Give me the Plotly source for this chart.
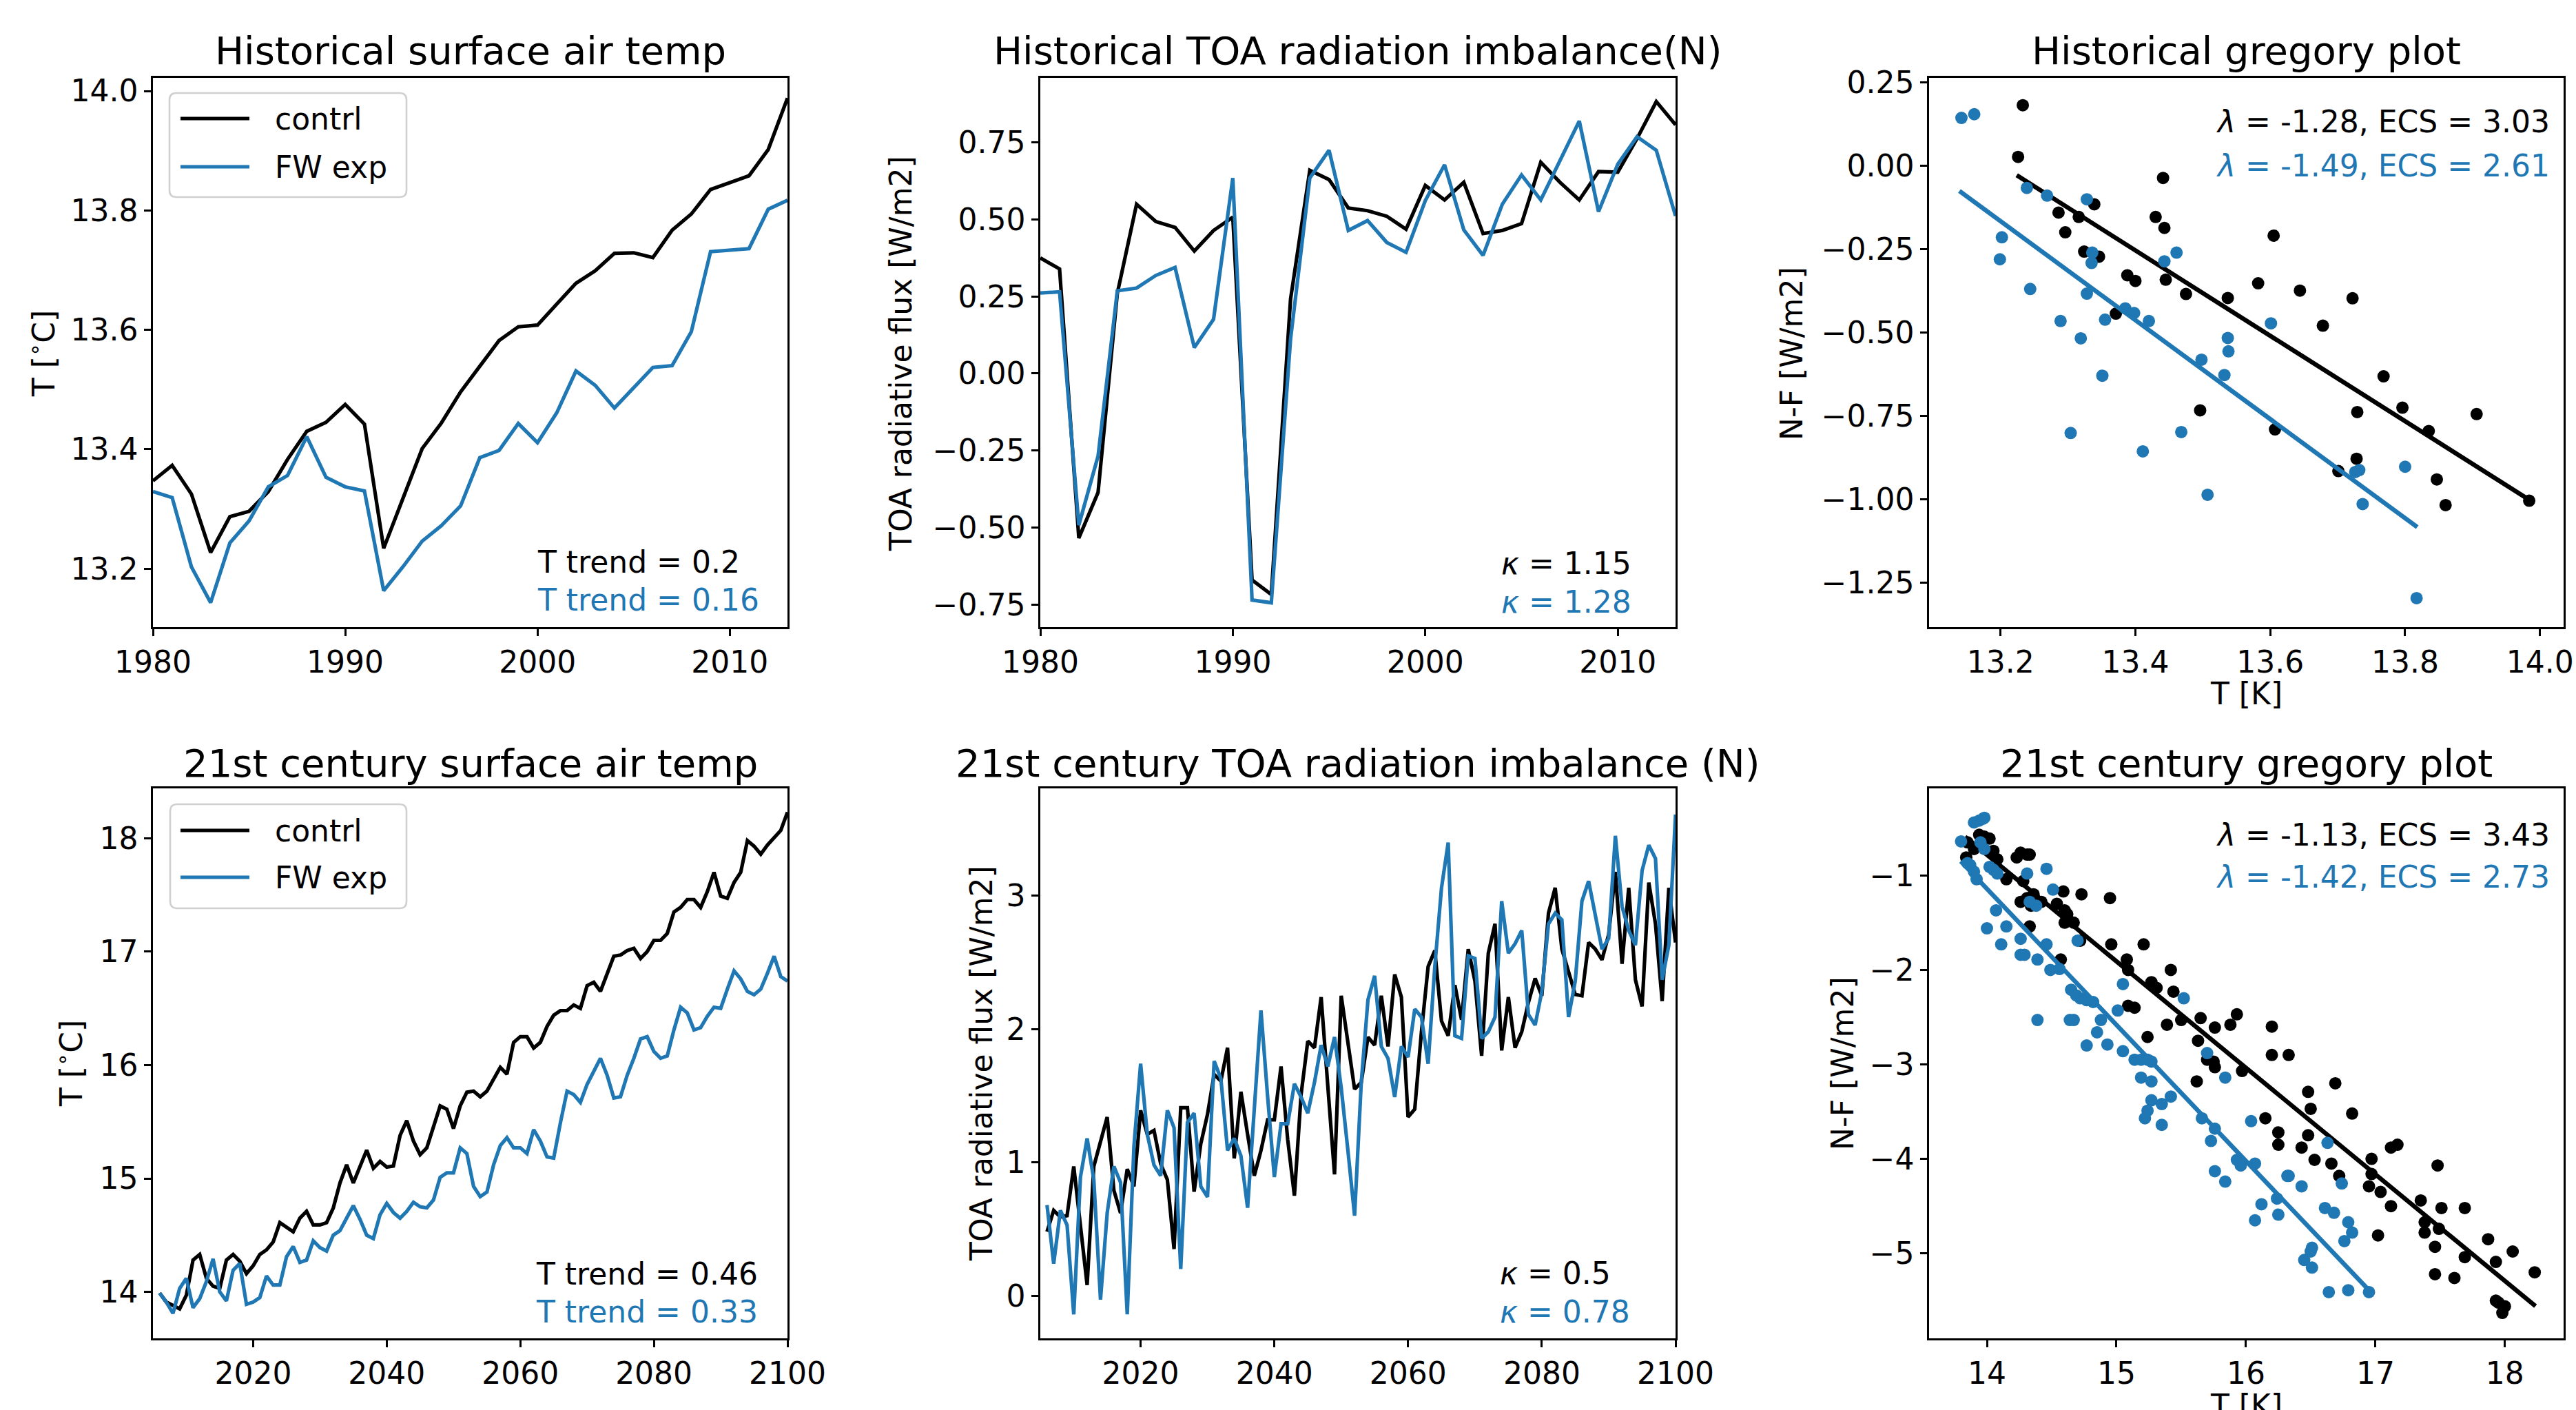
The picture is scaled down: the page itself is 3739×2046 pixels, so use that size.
import plotly.graph_objects as go

W, H = 3739, 2046
BLACK = "#000000"
BLUE = "#1f77b4"
FONT = "DejaVu Sans"

# ---------------- data ----------------
years_hist = list(range(1980, 2014))
years_21 = list(range(2006, 2101))

T_hist_ctrl = [13.347, 13.373, 13.325, 13.227, 13.287, 13.296, 13.329, 13.383, 13.430, 13.445,
               13.475, 13.442, 13.234, 13.319, 13.401, 13.444, 13.496, 13.539, 13.582, 13.605,
               13.608, 13.643, 13.678, 13.699, 13.728, 13.729, 13.721, 13.767, 13.794, 13.835,
               13.847, 13.858, 13.902, 13.988]
T_hist_fw = [13.329, 13.319, 13.203, 13.143, 13.243, 13.280, 13.337, 13.356, 13.421, 13.353,
             13.337, 13.330, 13.163, 13.203, 13.246, 13.272, 13.305, 13.386, 13.398, 13.443,
             13.411, 13.461, 13.531, 13.507, 13.469, 13.502, 13.537, 13.540, 13.597, 13.731,
             13.734, 13.736, 13.802, 13.817]

N_hist_ctrl = [0.375, 0.339, -0.534, -0.386, 0.26, 0.549, 0.493, 0.474, 0.397, 0.464,
               0.507, -0.670, -0.717, 0.241, 0.659, 0.629, 0.537, 0.528, 0.510, 0.468,
               0.610, 0.563, 0.620, 0.454, 0.464, 0.486, 0.685, 0.620, 0.563, 0.655,
               0.653, 0.762, 0.882, 0.807]
N_hist_fw = [0.261, 0.265, -0.492, -0.268, 0.268, 0.277, 0.318, 0.344, 0.084, 0.176,
             0.634, -0.735, -0.744, 0.111, 0.634, 0.724, 0.464, 0.496, 0.425, 0.393,
             0.561, 0.677, 0.466, 0.383, 0.549, 0.644, 0.563, 0.688, 0.819, 0.525,
             0.679, 0.768, 0.724, 0.511]

greg_hist_ctrl_T = [13.233, 13.226, 13.441, 13.339, 13.286, 13.316, 13.430, 13.443, 13.296, 13.605,
                    13.324, 13.346, 13.388, 13.400, 13.445, 13.475, 13.537, 13.582, 13.644, 13.722,
                    13.678, 13.371, 13.768, 13.496, 13.729, 13.796, 13.906, 13.607, 13.835, 13.728,
                    13.701, 13.847, 13.860, 13.984]
greg_hist_ctrl_NF = [0.181, 0.026, -0.037, -0.116, -0.141, -0.154, -0.154, -0.187, -0.200, -0.210,
                     -0.258, -0.273, -0.329, -0.346, -0.342, -0.385, -0.397, -0.353, -0.375, -0.398,
                     -0.480, -0.444, -0.632, -0.734, -0.739, -0.726, -0.745, -0.791, -0.796, -0.879,
                     -0.916, -0.941, -1.018, -1.005]
greg_hist_fw_T = [13.142, 13.161, 13.239, 13.269, 13.328, 13.202, 13.199, 13.336, 13.335, 13.443,
                  13.461, 13.244, 13.328, 13.289, 13.355, 13.385, 13.398, 13.420, 13.319, 13.601,
                  13.537, 13.538, 13.351, 13.498, 13.532, 13.304, 13.468, 13.411, 13.507, 13.726,
                  13.732, 13.800, 13.737, 13.817]
greg_hist_fw_NF = [0.143, 0.154, -0.067, -0.090, -0.101, -0.215, -0.281, -0.261, -0.292, -0.287,
                   -0.261, -0.370, -0.384, -0.466, -0.462, -0.428, -0.442, -0.466, -0.518, -0.473,
                   -0.517, -0.557, -0.630, -0.582, -0.628, -0.802, -0.799, -0.857, -0.987, -0.919,
                   -0.913, -0.903, -1.015, -1.297]
fit_hist_ctrl_T = [13.224, 13.984]
fit_hist_ctrl_NF = [-0.029, -1.002]
fit_hist_fw_T = [13.139, 13.818]
fit_hist_fw_NF = [-0.076, -1.084]

T21_ctrl = [13.99, 13.91, 13.88, 13.85, 13.97, 14.28, 14.33, 14.12, 14.05, 14.03,
            14.28, 14.33, 14.27, 14.16, 14.23, 14.33, 14.37, 14.44, 14.61, 14.57,
            14.53, 14.65, 14.71, 14.59, 14.59, 14.61, 14.74, 14.96, 15.12, 14.96,
            15.10, 15.25, 15.09, 15.15, 15.10, 15.11, 15.38, 15.51, 15.33, 15.21,
            15.27, 15.46, 15.64, 15.61, 15.44, 15.64, 15.76, 15.77, 15.72, 15.77,
            15.88, 15.98, 15.92, 16.20, 16.25, 16.25, 16.15, 16.20, 16.34, 16.44,
            16.48, 16.48, 16.53, 16.50, 16.70, 16.73, 16.65, 16.80, 16.96, 16.97,
            17.01, 17.03, 16.94, 17.00, 17.10, 17.10, 17.16, 17.35, 17.39, 17.46,
            17.46, 17.39, 17.53, 17.70, 17.49, 17.47, 17.61, 17.70, 17.98, 17.93,
            17.86, 17.94, 18.01, 18.07, 18.23]
T21_fw = [13.99, 13.91, 13.81, 14.03, 14.12, 13.86, 13.94, 14.09, 14.29, 14.00,
          13.92, 14.19, 14.25, 13.89, 13.91, 13.95, 14.14, 14.06, 14.06, 14.31,
          14.40, 14.26, 14.28, 14.45, 14.39, 14.36, 14.50, 14.54, 14.65, 14.76,
          14.64, 14.50, 14.47, 14.68, 14.78, 14.70, 14.65, 14.71, 14.79, 14.75,
          14.74, 14.81, 15.01, 15.05, 15.05, 15.27, 15.22, 14.93, 14.84, 14.88,
          15.12, 15.29, 15.36, 15.27, 15.27, 15.22, 15.43, 15.33, 15.19, 15.18,
          15.49, 15.77, 15.74, 15.67, 15.83, 15.95, 16.06, 15.91, 15.71, 15.72,
          15.91, 16.06, 16.23, 16.25, 16.12, 16.06, 16.08, 16.31, 16.51, 16.46,
          16.31, 16.33, 16.43, 16.51, 16.50, 16.67, 16.83, 16.76, 16.65, 16.62,
          16.67, 16.81, 16.96, 16.78, 16.74]

N21_ctrl = [0.48, 0.64, 0.59, 0.60, 0.97, 0.52, 0.08, 0.97, 1.16, 1.34,
            0.79, 0.62, 0.95, 0.82, 1.39, 1.21, 1.24, 0.99, 0.87, 0.35,
            1.41, 1.41, 0.78, 1.14, 1.36, 1.66, 1.61, 1.86, 1.03, 1.53,
            1.21, 0.90, 1.09, 1.32, 1.32, 1.72, 1.17, 0.75, 1.51, 1.91,
            1.86, 2.24, 1.57, 0.91, 2.25, 1.90, 1.55, 1.60, 1.94, 1.88,
            2.25, 1.87, 2.41, 2.24, 1.34, 1.40, 1.98, 2.47, 2.59, 2.06,
            1.95, 2.33, 2.07, 2.60, 2.36, 1.80, 2.57, 2.79, 1.84, 2.24,
            1.86, 1.98, 2.20, 2.38, 2.25, 2.87, 3.06, 2.60, 2.44, 2.26,
            2.25, 2.65, 2.60, 2.52, 2.71, 3.18, 2.49, 3.06, 2.37, 2.17,
            3.10, 2.79, 2.21, 3.06, 2.65]
N21_fw = [0.68, 0.24, 0.64, 0.53, -0.14, 0.89, 1.18, 0.87, -0.03, 0.62,
          0.97, 0.85, -0.14, 1.12, 1.74, 1.21, 0.98, 0.90, 1.39, 1.26,
          0.20, 1.30, 1.37, 0.82, 0.74, 1.76, 1.63, 1.09, 1.18, 1.05,
          0.66, 1.36, 2.14, 1.49, 0.89, 1.29, 1.29, 1.59, 1.49, 1.37,
          1.60, 1.88, 1.72, 1.94, 1.56, 1.09, 0.60, 1.60, 2.22, 2.40,
          1.87, 1.78, 1.49, 1.87, 1.79, 2.15, 2.09, 1.74, 2.47, 3.06,
          3.40, 1.95, 1.93, 2.55, 2.53, 1.93, 1.98, 2.09, 2.96, 2.57,
          2.64, 2.74, 2.11, 2.03, 2.28, 2.79, 2.87, 2.82, 2.09, 2.36,
          2.96, 3.11, 2.84, 2.60, 2.68, 3.45, 2.92, 2.74, 2.63, 3.19,
          3.38, 3.28, 2.37, 2.63, 3.61]

greg21_ctrl_T = [13.84, 13.85, 13.90, 13.94, 13.98, 14.02, 14.05, 14.08, 14.15, 14.23,
                 14.26, 14.31, 14.33, 14.28, 14.26, 14.31, 14.36, 14.34, 14.33, 14.42,
                 14.54, 14.59, 14.60, 14.62, 14.60, 14.67, 14.73, 14.72, 14.57, 14.95,
                 14.96, 15.08, 15.09, 15.21, 15.27, 15.31, 15.09, 15.14, 15.24, 15.39,
                 15.42, 15.44, 15.50, 15.65, 15.63, 15.76, 15.88, 15.93, 15.70, 15.76,
                 15.75, 15.62, 15.97, 16.20, 16.20, 16.33, 16.15, 16.25, 16.25, 16.48,
                 16.50, 16.69, 16.82, 16.48, 16.43, 16.53, 16.66, 16.72, 16.97, 16.97,
                 16.95, 17.04, 17.02, 17.12, 17.12, 17.17, 17.35, 17.38, 17.38, 17.51,
                 17.49, 17.48, 17.46, 17.46, 17.61, 17.69, 17.69, 17.87, 17.93, 18.06,
                 18.23, 17.93, 18.00, 17.98, 17.95]
greg21_ctrl_NF = [-0.81, -0.65, -0.72, -0.57, -0.59, -0.61, -0.74, -0.83, -1.04, -0.81,
                  -0.76, -0.78, -0.78, -1.06, -1.28, -1.24, -1.20, -1.32, -1.54, -1.28,
                  -1.30, -1.17, -1.37, -1.41, -1.50, -1.50, -1.20, -1.69, -1.89, -1.24,
                  -1.73, -1.89, -2.00, -1.73, -2.13, -2.19, -2.38, -2.40, -2.71, -2.58,
                  -2.00, -2.23, -2.53, -2.51, -2.75, -2.61, -2.58, -2.47, -2.95, -3.03,
                  -2.97, -3.18, -3.07, -2.60, -2.90, -2.90, -3.57, -3.72, -3.85, -3.29,
                  -3.47, -3.20, -3.52, -3.75, -3.88, -4.01, -4.05, -4.18, -4.00, -4.16,
                  -4.29, -4.35, -4.81, -4.50, -3.88, -3.85, -4.44, -4.67, -4.78, -4.52,
                  -4.74, -4.07, -4.93, -5.22, -5.26, -4.52, -5.04, -4.85, -5.09, -4.98,
                  -5.20, -5.50, -5.56, -5.63, -5.52]
greg21_fw_T = [13.80, 13.85, 13.87, 13.90, 13.92, 13.90, 13.94, 13.97, 13.98, 13.95,
               13.98, 14.02, 14.05, 14.08, 14.07, 14.00, 14.11, 14.15, 14.26, 14.26,
               14.29, 14.31, 14.33, 14.38, 14.39, 14.46, 14.46, 14.51, 14.49, 14.56,
               14.70, 14.39, 14.64, 14.67, 14.65, 14.69, 14.72, 14.77, 14.82, 14.77,
               14.85, 14.88, 14.93, 15.01, 15.05, 15.05, 15.14, 15.19, 15.24, 15.27,
               15.19, 15.27, 15.52, 15.70, 15.84, 15.27, 15.35, 15.24, 15.22, 15.35,
               15.42, 15.66, 15.76, 15.73, 16.04, 15.93, 15.96, 16.07, 15.76, 15.84,
               16.32, 16.33, 16.43, 16.63, 16.74, 16.24, 16.12, 16.25, 16.07, 16.61,
               16.68, 16.79, 16.82, 16.76, 16.51, 16.50, 16.45, 16.51, 16.64, 16.79,
               16.95]
greg21_fw_NF = [-0.64, -0.87, -0.89, -0.96, -1.04, -0.44, -0.42, -0.40, -0.39, -0.65,
                -0.72, -0.91, -0.94, -0.98, -1.37, -1.56, -1.73, -1.54, -1.67, -1.84,
                -1.84, -0.98, -1.28, -1.32, -1.89, -1.73, -0.93, -1.15, -2.00, -1.99,
                -1.69, -2.53, -2.53, -2.53, -2.21, -2.27, -2.30, -2.32, -2.34, -2.80,
                -2.66, -2.53, -2.79, -2.43, -2.15, -2.86, -2.95, -2.95, -2.95, -2.97,
                -3.14, -3.18, -2.30, -2.88, -3.14, -3.38, -3.42, -3.49, -3.57, -3.64,
                -3.34, -3.57, -3.68, -3.81, -3.60, -4.01, -4.07, -4.05, -4.13, -4.24,
                -4.18, -4.18, -4.29, -3.83, -4.26, -4.42, -4.48, -4.59, -4.65, -4.52,
                -4.57, -4.67, -4.78, -4.87, -4.94, -4.98, -5.07, -5.15, -5.41, -5.39,
                -5.41]
fit21_ctrl_T = [13.831, 18.236]
fit21_ctrl_NF = [-0.591, -5.558]
fit21_fw_T = [13.798, 16.963]
fit21_fw_NF = [-0.851, -5.409]

titles = ["Historical surface air temp", "Historical TOA radiation imbalance(N)",
          "Historical gregory plot", "21st century surface air temp",
          "21st century TOA radiation imbalance (N)", "21st century gregory plot"]

# ---------------- layout geometry (pixels) ----------------
cols = [(222, 1143), (1510, 2432), (2800, 3721)]
rows = [(113, 910), (1144, 1942)]


def px(x):
    return x / W


def py(y):
    return 1 - y / H


fig = go.Figure()

LW = 5.2


def line(x, y, color, ax, width=LW):
    fig.add_trace(go.Scatter(x=x, y=y, mode="lines", line=dict(color=color, width=width),
                             xaxis="x" + ax, yaxis="y" + ax, showlegend=False))


def dots(x, y, color, ax):
    fig.add_trace(go.Scatter(x=x, y=y, mode="markers",
                             marker=dict(color=color, size=18, line=dict(width=0)),
                             xaxis="x" + ax, yaxis="y" + ax, showlegend=False))


# panel 1
line(years_hist, T_hist_ctrl, BLACK, "")
line(years_hist, T_hist_fw, BLUE, "")
# panel 2
line(years_hist, N_hist_ctrl, BLACK, "2")
line(years_hist, N_hist_fw, BLUE, "2")
# panel 3
dots(greg_hist_ctrl_T, greg_hist_ctrl_NF, BLACK, "3")
line(fit_hist_ctrl_T, fit_hist_ctrl_NF, BLACK, "3", 6.5)
dots(greg_hist_fw_T, greg_hist_fw_NF, BLUE, "3")
line(fit_hist_fw_T, fit_hist_fw_NF, BLUE, "3", 6.5)
# panel 4
line(years_21, T21_ctrl, BLACK, "4")
line(years_21, T21_fw, BLUE, "4")
# panel 5
line(years_21, N21_ctrl, BLACK, "5")
line(years_21, N21_fw, BLUE, "5")
# panel 6
dots(greg21_ctrl_T, greg21_ctrl_NF, BLACK, "6")
line(fit21_ctrl_T, fit21_ctrl_NF, BLACK, "6", 6.5)
dots(greg21_fw_T, greg21_fw_NF, BLUE, "6")
line(fit21_fw_T, fit21_fw_NF, BLUE, "6", 6.5)

common = dict(showline=True, linecolor="black", linewidth=2.6, mirror=True,
              ticks="outside", ticklen=10, tickwidth=2.6, tickcolor="black",
              showgrid=False, zeroline=False, automargin=False,
              tickfont=dict(family=FONT, size=44, color="black"))

axes_spec = [
    # (xrange, xticks, xfmt, yrange, yticks, yfmt)
    ([1980, 2013], [1980, 1990, 2000, 2010], "d", [13.102, 14.022], [13.2, 13.4, 13.6, 13.8, 14.0], ".1f"),
    ([1980, 2013], [1980, 1990, 2000, 2010], "d", [-0.823, 0.959], [-0.75, -0.5, -0.25, 0, 0.25, 0.5, 0.75], ".2f"),
    ([13.094, 14.035], [13.2, 13.4, 13.6, 13.8, 14.0], ".1f", [-1.384, 0.263], [-1.25, -1.0, -0.75, -0.5, -0.25, 0, 0.25], ".2f"),
    ([2005, 2100], [2020, 2040, 2060, 2080, 2100], "d", [13.59, 18.44], [14, 15, 16, 17, 18], "d"),
    ([2005, 2100], [2020, 2040, 2060, 2080, 2100], "d", [-0.32, 3.806], [0, 1, 2, 3], "d"),
    ([13.553, 18.453], [14, 15, 16, 17, 18], "d", [-5.899, -0.079], [-5, -4, -3, -2, -1], "d"),
]

layout = dict(width=W, height=H, margin=dict(l=0, r=0, t=0, b=0, pad=0, autoexpand=False),
              paper_bgcolor="white", plot_bgcolor="white", showlegend=False,
              font=dict(family=FONT, color="black"))

for i, (xr, xt, xf, yr, yt, yf) in enumerate(axes_spec):
    r, c = divmod(i, 3)
    n = "" if i == 0 else str(i + 1)
    l_, r_ = cols[c]
    t_, b_ = rows[r]
    layout["xaxis" + n] = dict(common, domain=[px(l_), px(r_)], range=xr, tickvals=xt,
                               tickformat=xf, anchor="y" + n)
    layout["yaxis" + n] = dict(common, domain=[py(b_), py(t_)], range=yr, tickvals=yt,
                               tickformat=yf, anchor="x" + n)

fig.update_layout(**layout)

annotations = []


def ann(text, x, y, color="black", size=44, xanchor="left", yanchor="middle", angle=0):
    annotations.append(dict(text=text, x=px(x), y=py(y), xref="paper", yref="paper",
                            xanchor=xanchor, yanchor=yanchor, showarrow=False, textangle=angle,
                            font=dict(family=FONT, size=size, color=color)))


# titles
for i, t in enumerate(titles):
    r, c = divmod(i, 3)
    cx = (cols[c][0] + cols[c][1]) / 2
    ann(t, cx, [74, 1107][r], size=56, xanchor="center")

# axis titles
ann("T [<sup>∘</sup>C]", 60, 513, xanchor="center", angle=-90)
ann("TOA radiative flux [W/m2]", 1307, 513, xanchor="center", angle=-90)
ann("N-F [W/m2]", 2600, 513, xanchor="center", angle=-90)
ann("T [<sup>∘</sup>C]", 100, 1543, xanchor="center", angle=-90)
ann("TOA radiative flux [W/m2]", 1424, 1543, xanchor="center", angle=-90)
ann("N-F [W/m2]", 2674, 1543, xanchor="center", angle=-90)
ann("T [K]", 3260, 1006, xanchor="center")
ann("T [K]", 3260, 2012, xanchor="center", yanchor="top")

# in-panel statistics
ann("T trend = 0.2", 778, 815, BLACK)
ann("T trend = 0.16", 778, 870, BLUE)
ann("<i>κ</i> = 1.15", 2177, 817, BLACK)
ann("<i>κ</i> = 1.28", 2177, 873, BLUE)
ann("<i>λ</i> = -1.28, ECS = 3.03", 3215, 176, BLACK)
ann("<i>λ</i> = -1.49, ECS = 2.61", 3215, 240, BLUE)
ann("T trend = 0.46", 776, 1848, BLACK)
ann("T trend = 0.33", 776, 1903, BLUE)
ann("<i>κ</i> = 0.5", 2175, 1847, BLACK)
ann("<i>κ</i> = 0.78", 2175, 1903, BLUE)
ann("<i>λ</i> = -1.13, ECS = 3.43", 3215, 1211, BLACK)
ann("<i>λ</i> = -1.42, ECS = 2.73", 3215, 1272, BLUE)

shapes = []


def rrect(x0, y0, x1, y1, r):
    pts = [
        ("M", [(x0 + r, y0)]), ("L", [(x1 - r, y0)]), ("Q", [(x1, y0), (x1, y0 + r)]),
        ("L", [(x1, y1 - r)]), ("Q", [(x1, y1), (x1 - r, y1)]), ("L", [(x0 + r, y1)]),
        ("Q", [(x0, y1), (x0, y1 - r)]), ("L", [(x0, y0 + r)]), ("Q", [(x0, y0), (x0 + r, y0)]),
    ]
    s = ""
    for cmd, pp in pts:
        s += cmd + " ".join(f"{px(a):.6f},{py(b):.6f}" for a, b in pp) + " "
    return s + "Z"


# legends (top-left and bottom-left panels)
for (bx0, by0, bx1, by1, ly1, ly2) in [(246, 135, 590, 286, 172, 242),
                                        (247, 1167, 590, 1318, 1205, 1273)]:
    shapes.append(dict(type="path", path=rrect(bx0, by0, bx1, by1, 10), xref="paper", yref="paper",
                       line=dict(color="#d0d0d0", width=2.6), fillcolor="rgba(255,255,255,0.8)",
                       layer="above"))
    for yy, col, lab in [(ly1, BLACK, "contrl"), (ly2, BLUE, "FW exp")]:
        shapes.append(dict(type="line", xref="paper", yref="paper", x0=px(262), x1=px(362),
                           y0=py(yy), y1=py(yy), line=dict(color=col, width=LW), layer="above"))
        ann(lab, 397, yy)

fig.update_layout(annotations=annotations, shapes=shapes)
fig.write_html("out.html", config={"displayModeBar": False},
               post_script="document.body.style.margin='0';document.body.style.overflow='hidden';")
